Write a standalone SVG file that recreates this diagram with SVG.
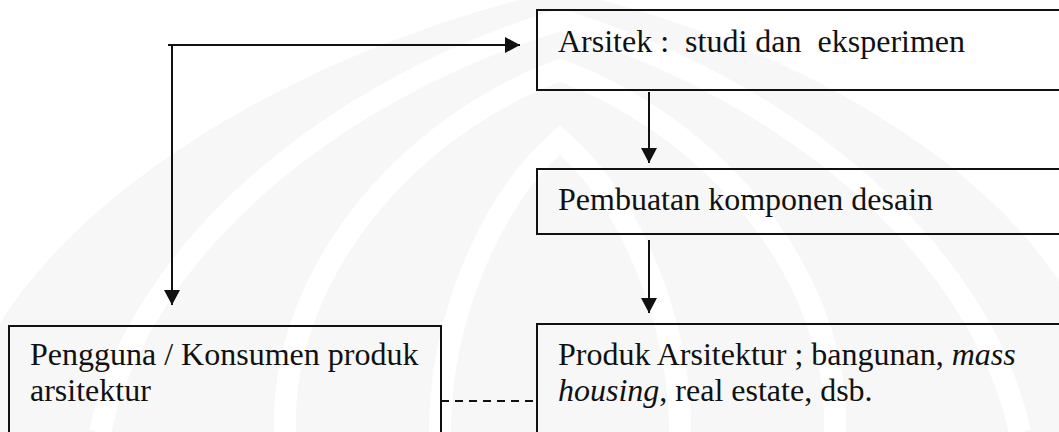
<svg xmlns="http://www.w3.org/2000/svg" width="1059" height="432" viewBox="0 0 1059 432">
  <style>
    .box { fill: none; stroke: #111111; stroke-width: 2; }
    .lbl { font-family: "Liberation Serif", "Times New Roman", serif; font-size: 32px; fill: #111111; }
    .wire { fill: none; stroke: #111111; stroke-width: 2; }
    .dash { fill: none; stroke: #111111; stroke-width: 1.8; stroke-dasharray: 8 6; }
    .mark { fill: #f7f7f7; }
    .band { fill: none; stroke: #ffffff; stroke-width: 22; }
  </style>
  <defs>
    <marker id="head" viewBox="0 0 15 16" refX="15" refY="8" markerWidth="15" markerHeight="16" markerUnits="userSpaceOnUse" orient="auto">
      <path d="M0,0 L15,8 L0,16 Z" fill="#111111"/>
    </marker>
  </defs>
  <rect width="1059" height="432" fill="#ffffff"/>

  <!-- faint background emblem -->
  <g id="emblem">
    <path class="mark" d="M-40,432 C-20,250 250,60 560,-10 C870,60 1120,250 1100,432 Z"/>
    <path class="band" d="M100,432 C140,250 330,90 560,20 C790,90 980,250 1020,432"/>
    <path class="band" d="M285,432 C280,280 400,130 560,70 C720,130 840,280 835,432"/>
    <path class="band" d="M440,432 C440,320 490,200 560,140 C630,200 680,320 680,432"/>
  </g>

  <g id="node-arsitek">
    <rect class="box" x="537" y="10" width="540" height="80"/>
    <text class="lbl" x="558" y="52" xml:space="preserve">Arsitek :  studi dan  eksperimen</text>
  </g>

  <g id="node-pembuatan">
    <rect class="box" x="537" y="169" width="540" height="65"/>
    <text class="lbl" x="558" y="210">Pembuatan komponen desain</text>
  </g>

  <g id="node-produk">
    <rect class="box" x="537" y="324" width="540" height="130"/>
    <text class="lbl" x="558" y="365">Produk Arsitektur ; bangunan, <tspan font-style="italic">mass</tspan></text>
    <text class="lbl" x="558" y="401"><tspan font-style="italic">housing</tspan>, real estate, dsb.</text>
  </g>

  <g id="node-pengguna">
    <rect class="box" x="9" y="326" width="432" height="130"/>
    <text class="lbl" x="30" y="365">Pengguna / Konsumen produk</text>
    <text class="lbl" x="30" y="401">arsitektur</text>
  </g>

  <g id="connectors">
    <line class="wire" x1="649" y1="92" x2="649" y2="163" marker-end="url(#head)"/>
    <line class="wire" x1="649" y1="240" x2="649" y2="313" marker-end="url(#head)"/>
    <line class="wire" x1="168" y1="45" x2="520" y2="45" marker-end="url(#head)"/>
    <line class="wire" x1="172" y1="45" x2="172" y2="305" marker-end="url(#head)"/>
    <line class="dash" x1="441" y1="401" x2="537" y2="401"/>
  </g>
</svg>
